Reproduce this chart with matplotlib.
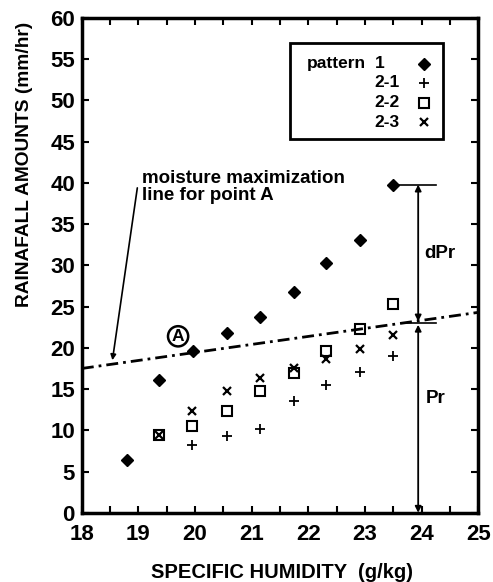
import matplotlib.pyplot as plt
from matplotlib.patches import Rectangle

plt.rcParams['font.family'] = ['Liberation Sans', 'DejaVu Sans']
plt.rcParams['font.weight'] = 'bold'
plt.rcParams['axes.labelweight'] = 'bold'

# specific humidity (g/kg) and rainfall (mm/hr) for each pattern
p1_x = [18.8, 19.37, 19.97, 20.57, 21.15, 21.75, 22.31, 22.91, 23.5]
p1_y = [6.4, 16.1, 19.6, 21.8, 23.7, 26.8, 30.3, 33.1, 39.8]

p21_x = [19.95, 20.56, 21.15, 21.75, 22.32, 22.92, 23.5]
p21_y = [8.2, 9.3, 10.2, 13.5, 15.5, 17.1, 19.0]

p22_x = [19.37, 19.95, 20.56, 21.15, 21.75, 22.32, 22.92, 23.5]
p22_y = [9.4, 10.5, 12.3, 14.8, 17.0, 19.6, 22.3, 25.3]

p23_x = [19.37, 19.95, 20.56, 21.15, 21.75, 22.32, 22.92, 23.5]
p23_y = [9.4, 12.4, 14.8, 16.3, 17.5, 18.6, 19.8, 21.6]

# moisture maximization line through point A
line_x = [18.0, 25.0]
line_y = [17.5, 24.3]

max_x = 23.94
max_y = 39.8
pr_y = 23.0

fig = plt.figure(figsize=(4.93, 5.82), dpi=100)
ax = fig.add_axes([0.166, 0.119, 0.804, 0.850])

ax.plot(line_x, line_y, color='black', lw=2, dashes=(4.3, 1.8, 1, 1.8))

ax.plot(p1_x, p1_y, 'D', color='black', ms=6.5, ls='none')
ax.plot(p21_x, p21_y, '+', color='black', ms=7, mew=1.3, ls='none')
ax.plot(p22_x, p22_y, 's', mfc='none', mec='black', ms=6.5, mew=1.5, ls='none')
ax.plot(p23_x, p23_y, 'x', color='black', ms=6, mew=1.6, ls='none')

# dPr / Pr arrows
ax.plot([p1_x[-1], 24.25], [max_y, max_y], color='black', lw=1.2)
ax.plot([23.63, 24.25], [pr_y, pr_y], color='black', lw=1.2)
ax.annotate('', xy=(max_x, max_y), xytext=(max_x, pr_y + 0.2),
            arrowprops=dict(arrowstyle='<|-|>', color='black', lw=1.3,
                            mutation_scale=9, shrinkA=0, shrinkB=0))
ax.annotate('', xy=(max_x, pr_y - 0.2), xytext=(max_x, 0),
            arrowprops=dict(arrowstyle='<|-|>', color='black', lw=1.3,
                            mutation_scale=9, shrinkA=0, shrinkB=0))
ax.text(24.05, 31.5, 'dPr', fontsize=13.5, va='center', ha='left')
ax.text(24.08, 13.8, 'Pr', fontsize=13.5, va='center', ha='left')

# annotation for the maximization line
ax.text(19.07, 41.6, 'moisture maximization\nline for point A', fontsize=13.5,
        va='top', ha='left', linespacing=1.05)
ax.annotate('', xy=(18.54, 18.5), xytext=(18.98, 39.4),
            arrowprops=dict(arrowstyle='-|>', color='black', lw=1.2,
                            mutation_scale=8, shrinkA=0, shrinkB=0))

ax.text(19.7, 21.4, 'A', fontsize=12.5, ha='center', va='center',
        bbox=dict(boxstyle='circle,pad=0.15', fc='white', ec='black', lw=1.8))

# legend drawn by hand
ax.add_patch(Rectangle((0.525, 0.756), 0.387, 0.193, transform=ax.transAxes,
                       fill=False, ec='black', lw=2, zorder=5))
legend_labels = ['1', '2-1', '2-2', '2-3']
legend_rows = [0.908, 0.869, 0.829, 0.789]
ax.text(0.567, legend_rows[0], 'pattern', transform=ax.transAxes,
        fontsize=12.5, va='center', ha='left')
ax.text(0.740, legend_rows[0], legend_labels[0], transform=ax.transAxes,
        fontsize=12.5, va='center', ha='left')
for lab, yy in zip(legend_labels[1:], legend_rows[1:]):
    ax.text(0.738, yy, lab, transform=ax.transAxes, fontsize=12.5,
            va='center', ha='left')
ax.plot(0.862, legend_rows[0], 'D', color='black', ms=6.5, transform=ax.transAxes)
ax.plot(0.862, legend_rows[1], '+', color='black', ms=7, mew=1.3, transform=ax.transAxes)
ax.plot(0.862, legend_rows[2], 's', mfc='none', mec='black', ms=6.5, mew=1.5,
        transform=ax.transAxes)
ax.plot(0.862, legend_rows[3], 'x', color='black', ms=6, mew=1.6, transform=ax.transAxes)

ax.set_xlim(18, 25)
ax.set_ylim(0, 60)
ax.set_xticks(range(18, 26))
ax.set_xticks([18.5 + i for i in range(7)], minor=True)
ax.set_yticks(range(0, 61, 5))
ax.tick_params(which='both', direction='in', top=True, right=True,
               length=5, width=1.5, labelsize=16)
ax.tick_params(axis='x', pad=8)
ax.tick_params(axis='y', pad=5)
for sp in ax.spines.values():
    sp.set_linewidth(2.5)

ax.set_xlabel('SPECIFIC HUMIDITY  (g/kg)', fontsize=14.5)
ax.set_ylabel('RAINAFALL AMOUNTS (mm/hr)', fontsize=13.8)
ax.xaxis.set_label_coords(0.506, -0.102)
ax.yaxis.set_label_coords(-0.124, 0.705)

fig.savefig('out.png', dpi=100)
